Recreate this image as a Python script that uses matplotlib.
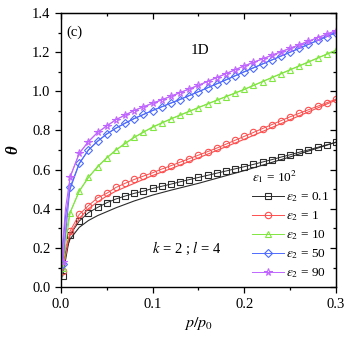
import matplotlib
matplotlib.use("Agg")
import matplotlib.pyplot as plt
from matplotlib.ticker import MultipleLocator

# Marker data (symbols), p/p0 grid
p = [0.002, 0.01, 0.02, 0.03, 0.04, 0.05, 0.06, 0.07, 0.08, 0.09, 0.10,
     0.11, 0.12, 0.13, 0.14, 0.15, 0.16, 0.17, 0.18, 0.19, 0.20,
     0.21, 0.22, 0.23, 0.24, 0.25, 0.26, 0.27, 0.28, 0.29, 0.30]

eps01 = [0.056, 0.266, 0.337, 0.380, 0.407, 0.431, 0.450, 0.465, 0.479, 0.490, 0.504,
         0.515, 0.526, 0.538, 0.549, 0.560, 0.571, 0.582, 0.593, 0.604, 0.615,
         0.627, 0.639, 0.651, 0.664, 0.676, 0.689, 0.701, 0.714, 0.727, 0.740]
eps1 = [0.080, 0.286, 0.371, 0.416, 0.456, 0.479, 0.509, 0.530, 0.550, 0.567, 0.584,
        0.603, 0.620, 0.638, 0.656, 0.674, 0.692, 0.710, 0.730, 0.750, 0.770,
        0.790, 0.810, 0.830, 0.850, 0.870, 0.888, 0.906, 0.924, 0.942, 0.960]
eps10 = [0.100, 0.380, 0.490, 0.560, 0.615, 0.660, 0.700, 0.735, 0.765, 0.792, 0.817,
         0.839, 0.859, 0.879, 0.898, 0.917, 0.936, 0.955, 0.973, 0.991, 1.010,
         1.030, 1.050, 1.070, 1.090, 1.110, 1.130, 1.150, 1.170, 1.190, 1.210]
eps50 = [0.120, 0.510, 0.632, 0.700, 0.745, 0.782, 0.812, 0.838, 0.861, 0.882, 0.902,
         0.921, 0.940, 0.958, 0.978, 0.998, 1.018, 1.038, 1.058, 1.079, 1.100,
         1.120, 1.140, 1.160, 1.180, 1.200, 1.220, 1.240, 1.260, 1.280, 1.300]
eps90 = [0.130, 0.564, 0.683, 0.743, 0.790, 0.823, 0.855, 0.879, 0.902, 0.921, 0.939,
         0.956, 0.975, 0.993, 1.012, 1.031, 1.050, 1.070, 1.090, 1.110, 1.130,
         1.148, 1.166, 1.184, 1.202, 1.220, 1.238, 1.256, 1.274, 1.292, 1.310]

# Solid (theory) curves
p_line = [0, 0.002, 0.005, 0.01, 0.02, 0.03, 0.04, 0.05, 0.06, 0.08, 0.10,
          0.12, 0.15, 0.20, 0.25, 0.30]
line01 = [0, 0.11, 0.18, 0.245, 0.305, 0.340, 0.365, 0.385, 0.405, 0.440, 0.470,
          0.495, 0.530, 0.595, 0.665, 0.740]
line1 = [0, 0.13, 0.20, 0.270, 0.350, 0.400, 0.435, 0.465, 0.490, 0.530, 0.570,
         0.605, 0.660, 0.755, 0.855, 0.955]
line10 = [0, 0.14, 0.27, 0.380, 0.490, 0.560, 0.615, 0.660, 0.700, 0.765, 0.817,
          0.859, 0.917, 1.010, 1.110, 1.210]
line50 = [0, 0.20, 0.36, 0.500, 0.630, 0.700, 0.745, 0.782, 0.812, 0.861, 0.902,
          0.940, 0.998, 1.100, 1.200, 1.300]
line90 = [0, 0.22, 0.40, 0.560, 0.683, 0.743, 0.790, 0.823, 0.855, 0.902, 0.939,
          0.975, 1.031, 1.130, 1.220, 1.310]

labels = ["0.1", "1", "10", "50", "90"]

plt.rcParams["font.family"] = ["Liberation Serif", "DejaVu Serif"]
plt.rcParams["mathtext.fontset"] = "stix"

fig = plt.figure(figsize=(3.54, 3.43), dpi=100)
ax = fig.add_axes([0.172, 0.163, 0.777, 0.799])

series = [
    (eps01, line01, "#2b2b2b", "s", 3.8),
    (eps1, line1, "#ff4d4d", "o", 4.6),
    (eps10, line10, "#80e640", "^", 4.6),
    (eps50, line50, "#4d6bff", "D", 3.8),
    (eps90, line90, "#c066ff", "*", 5.6),
]

handles = []
for (ys, yl, col, mk, ms), lab in zip(series, labels):
    ax.plot(p_line, yl, color=col, lw=0.8)
    h, = ax.plot(p, ys, color=col, lw=0.7, marker=mk, ms=ms,
                 mfc="none", mec=col, mew=0.8,
                 label=r"$\varepsilon_2$ = " + lab)
    handles.append(h)

ax.set_xlim(0, 0.3)
ax.set_ylim(0, 1.4)
ax.xaxis.set_major_locator(MultipleLocator(0.1))
ax.xaxis.set_minor_locator(MultipleLocator(0.05))
ax.yaxis.set_major_locator(MultipleLocator(0.2))
ax.yaxis.set_minor_locator(MultipleLocator(0.1))
ax.xaxis.set_major_formatter(plt.FuncFormatter(lambda v, _: f"{v:.1f}"))
ax.yaxis.set_major_formatter(plt.FuncFormatter(lambda v, _: f"{v:.1f}"))
ax.tick_params(which="major", direction="out", length=4, width=0.9, labelsize=10.5)
ax.tick_params(which="minor", direction="out", length=2.5, width=0.9)
for s in ax.spines.values():
    s.set_linewidth(1.0)

# inward ticks on top and right
top = ax.secondary_xaxis("top")
top.xaxis.set_major_locator(MultipleLocator(0.1))
top.xaxis.set_minor_locator(MultipleLocator(0.05))
top.tick_params(which="major", direction="in", length=4, width=0.9, labeltop=False)
top.tick_params(which="minor", direction="in", length=2.5, width=0.9)
right = ax.secondary_yaxis("right")
right.yaxis.set_major_locator(MultipleLocator(0.2))
right.yaxis.set_minor_locator(MultipleLocator(0.1))
right.tick_params(which="major", direction="in", length=4, width=0.9, labelright=False)
right.tick_params(which="minor", direction="in", length=2.5, width=0.9)

ax.set_xlabel(r"$p/p_0$", fontsize=11.5, labelpad=3)
ax.set_ylabel("θ", fontsize=12, fontstyle="italic", fontweight="bold", labelpad=8)

ax.text(0.006, 1.30, "(c)", fontsize=10.5, va="center")
ax.text(0.152, 1.21, "1D", fontsize=11, ha="center", va="center")
ax.text(0.137, 0.20, r"$k$ = 2 ; $l$ = 4", fontsize=10.5, ha="center", va="center")

leg = ax.legend(handles=handles, title=r"$\varepsilon_1$ = 10$^2$", loc="lower right",
                frameon=False, fontsize=9.5, title_fontsize=9.5, handlelength=2.4,
                handletextpad=0.2, labelspacing=0.4, borderaxespad=0.1,
                numpoints=1)
leg._legend_box.align = "left"

fig.savefig("out.png", dpi=100)
